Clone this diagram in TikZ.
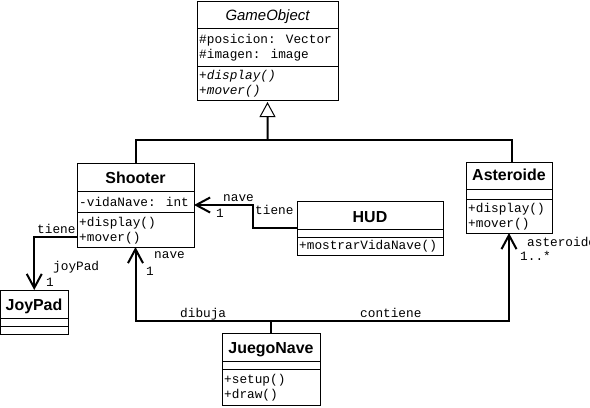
\documentclass[tikz,border=0pt]{standalone}
\usepackage{fontspec}
\setmainfont{Liberation Sans}
\newfontfamily\monof{Liberation Mono}
\usetikzlibrary{arrows.meta,calc}
\tikzset{
  umlbox/.style={draw=black, line width=1bp, inner sep=0pt, outer sep=0pt, anchor=north west, fill=white},
  sepline/.style={draw=black, line width=1bp},
  ttl/.style={anchor=base, inner sep=0pt, font=\fontsize{16}{16}\selectfont\bfseries},
  ttlit/.style={anchor=base, inner sep=0pt, font=\fontsize{15}{15}\selectfont\itshape},
  mem/.style={anchor=base west, inner sep=0pt, font=\fontsize{12.8}{13}\selectfont\monof},
  memit/.style={anchor=base west, inner sep=0pt, font=\fontsize{12.8}{13}\selectfont\monof\itshape},
  lbl/.style={anchor=base west, inner sep=0pt, font=\fontsize{12.8}{13}\selectfont\monof},
  conn/.style={draw=black, line width=2bp},
  nav/.style={conn, -{Straight Barb[length=14bp,width=15bp]}},
  gen/.style={conn, -{Triangle[open,length=15bp,width=16bp,line width=1bp]}, shorten >=2bp},
}
\begin{document}
\begin{tikzpicture}[x=1bp,y=-1bp]
\useasboundingbox (0,0) rectangle (590,407);
\fill[white] (0,0) rectangle (590,407);

% GameObject
\node[umlbox, minimum width=141bp, minimum height=99bp] (go) at (197,1) {};
\draw[sepline] (go.north west) ++(0,27) -- ++(141,0);
\draw[sepline] (go.north west) ++(0,65) -- ++(141,0);
\node[ttlit] (goT) at (267.5,20) {GameObject};
\node[mem] (goA1) at (199,43) {\#posicion: Vector};
\node[mem] (goA2) at (199,58) {\#imagen: image};
\node[memit] (goM1) at (199,79) {+display()};
\node[memit] (goM2) at (199,94) {+mover()};

% Shooter
\node[umlbox, minimum width=117bp, minimum height=84bp] (sh) at (77,163) {};
\draw[sepline] (sh.north west) ++(0,28) -- ++(117,0);
\draw[sepline] (sh.north west) ++(0,49) -- ++(117,0);
\node[ttl] (shT) at (135.5,183) {Shooter};
\node[mem] (shA1) at (79,206) {-vidaNave: int};
\node[mem] (shM1) at (79,226) {+display()};
\node[mem] (shM2) at (79,241) {+mover()};

% HUD
\node[umlbox, minimum width=146bp, minimum height=54bp] (hud) at (297,201) {};
\draw[sepline] (hud.north west) ++(0,28) -- ++(146,0);
\draw[sepline] (hud.north west) ++(0,36) -- ++(146,0);
\node[ttl] (hudT) at (370,222) {HUD};
\node[mem] (hudM1) at (299,249) {+mostrarVidaNave()};

% Asteroide
\node[umlbox, minimum width=86bp, minimum height=71bp] (ast) at (466,162) {};
\draw[sepline] (ast.north west) ++(0,27) -- ++(86,0);
\draw[sepline] (ast.north west) ++(0,37) -- ++(86,0);
\node[ttl] (astT) at (509,180) {Asteroide};
\node[mem] (astM1) at (468,212) {+display()};
\node[mem] (astM2) at (468,227) {+mover()};

% JoyPad
\node[umlbox, minimum width=67.5bp, minimum height=44bp] (joy) at (0.5,290) {};
\draw[sepline] (joy.north west) ++(0,28) -- ++(67.5,0);
\draw[sepline] (joy.north west) ++(0,36) -- ++(67.5,0);
\node[ttl] (joyT) at (34,310) {JoyPad};

% JuegoNave
\node[umlbox, minimum width=98bp, minimum height=72bp] (jn) at (222,333) {};
\draw[sepline] (jn.north west) ++(0,28) -- ++(98,0);
\draw[sepline] (jn.north west) ++(0,36) -- ++(98,0);
\node[ttl] (jnT) at (271,353) {JuegoNave};
\node[mem] (jnM1) at (224,383) {+setup()};
\node[mem] (jnM2) at (224,398) {+draw()};

% Generalisation
\coordinate (junc) at (267.5,140);
\draw[conn] (sh.north) |- (junc) -| ($(ast.north)+(3,0)$);
\draw[gen] (junc) -- (go.south);

% HUD -> Shooter
\draw[nav] ($(hud.north west)+(0,27)$) -- ++(-44,0) |- (sh.east);
\node[lbl] (l1) at (223,201) {nave};
\node[lbl] (l2) at (216,217) {1};
\node[lbl] (l3) at (255,214) {tiene};

% Shooter -> JoyPad
\draw[nav] ($(sh.north west)+(0,74)$) -| (joy.north);
\node[lbl] (l4) at (37,233) {tiene};
\node[lbl] (l5) at (53,270) {joyPad};
\node[lbl] (l6) at (46,286) {1};

% JuegoNave -> Shooter, Asteroide
\coordinate (bus) at ($(jn.north)+(0,-12)$);
\draw[nav] (jn.north) -- (bus) -| (sh.south);
\draw[nav] (jn.north) -- (bus) -| (ast.south);
\node[lbl] (l7) at (154,258) {nave};
\node[lbl] (l8) at (146,275) {1};
\node[lbl] (l9) at (180,317) {dibuja};
\node[lbl] (l10) at (360,317) {contiene};
\node[lbl] (l11) at (527,246) {asteroide};
\node[lbl] (l12) at (520,260) {1..*};
\end{tikzpicture}
\end{document}
